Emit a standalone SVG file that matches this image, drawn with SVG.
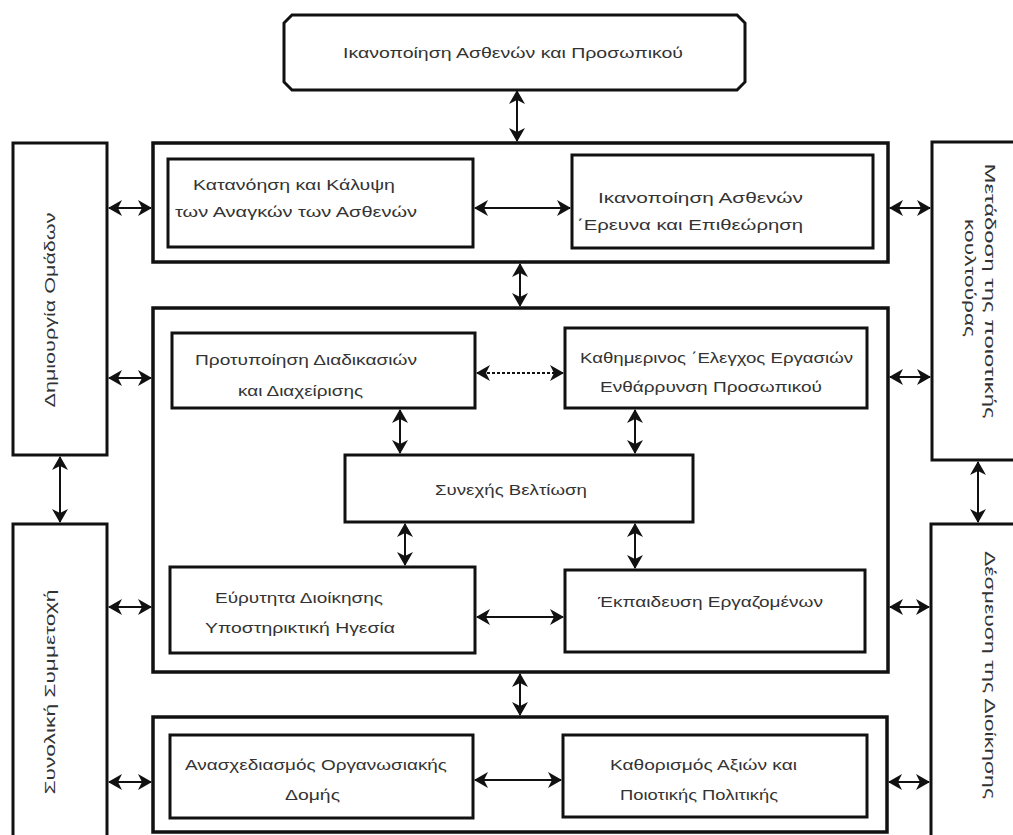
<svg xmlns="http://www.w3.org/2000/svg" width="1013" height="835" viewBox="0 0 1013 835">
<style>
.box{fill:#fff;stroke:#111;stroke-width:3}
.frame{fill:none;stroke:#111;stroke-width:3.5}
.t{font-family:"Liberation Sans",Arial,sans-serif;font-size:14px;fill:#333}
.tr{font-family:"Liberation Sans",Arial,sans-serif;font-size:15px;fill:#333}
.c{stroke:#111;stroke-width:2;fill:none;marker-start:url(#ah);marker-end:url(#ah)}
.d{stroke-dasharray:3 2}
</style>
<defs>
<marker id="ah" viewBox="0 0 14 16" refX="13" refY="8" markerWidth="14" markerHeight="16" markerUnits="userSpaceOnUse" orient="auto-start-reverse">
<path d="M0,0 L14,8 L0,16 L4,8 z" fill="#111"/>
</marker>
</defs>
<rect width="1013" height="835" fill="#fff"/>

<g id="frames">
<rect id="frame1" class="frame" x="153" y="143" width="735" height="119"/>
<rect id="frame2" class="frame" x="153" y="308" width="735" height="364"/>
<rect id="frame3" class="frame" x="153" y="717" width="734" height="115"/>
</g>

<g id="top">
<path class="box" d="M292,15 L737,15 L745,23 L745,82 L737,90 L292,90 L284,82 L284,23 z"/>
<text class="t" x="343" y="58" textLength="340" lengthAdjust="spacingAndGlyphs">Ικανοποίηση Ασθενών και Προσωπικού</text>
</g>

<g id="left1">
<rect class="box" x="13" y="143" width="94" height="312"/>
<text class="tr" transform="translate(55,310) rotate(-90)" text-anchor="middle" textLength="195" lengthAdjust="spacingAndGlyphs">Δημιουργία Ομάδων</text>
</g>
<g id="left2">
<rect class="box" x="13" y="524" width="94" height="320"/>
<text class="tr" transform="translate(55,692) rotate(-90)" text-anchor="middle" textLength="205" lengthAdjust="spacingAndGlyphs">Συνολική Συμμετοχή</text>
</g>
<g id="right1">
<rect class="box" x="932" y="142" width="95" height="318"/>
<text class="tr" transform="translate(985,291) rotate(90)" text-anchor="middle" textLength="255" lengthAdjust="spacingAndGlyphs">Μετάδοση της ποιοτικής</text>
<text class="tr" transform="translate(965,278) rotate(90)" text-anchor="middle" textLength="118" lengthAdjust="spacingAndGlyphs">κουλτούρας</text>
</g>
<g id="right2">
<rect class="box" x="931" y="524" width="95" height="320"/>
<text class="tr" transform="translate(985,675) rotate(90)" text-anchor="middle" textLength="248" lengthAdjust="spacingAndGlyphs">Δέσμευση της Διοίκησης</text>
</g>

<g id="n1a">
<rect class="box" x="168" y="159" width="305" height="88"/>
<text class="t" x="193" y="190" textLength="202" lengthAdjust="spacingAndGlyphs">Κατανόηση και Κάλυψη</text>
<text class="t" x="175" y="217" textLength="242" lengthAdjust="spacingAndGlyphs">των Αναγκών των Ασθενών</text>
</g>
<g id="n1b">
<rect class="box" x="572" y="155" width="301" height="93"/>
<text class="t" x="598" y="203" textLength="205" lengthAdjust="spacingAndGlyphs">Ικανοποίηση Ασθενών</text>
<text class="t" x="577" y="230" textLength="226" lengthAdjust="spacingAndGlyphs">΄Ερευνα και Επιθεώρηση</text>
</g>
<g id="n2a">
<rect class="box" x="172" y="333" width="303" height="75"/>
<text class="t" x="195" y="365" textLength="222" lengthAdjust="spacingAndGlyphs">Προτυποίηση Διαδικασιών</text>
<text class="t" x="238" y="396" textLength="125" lengthAdjust="spacingAndGlyphs">και Διαχείρισης</text>
</g>
<g id="n2b">
<rect class="box" x="565" y="328" width="302" height="80"/>
<text class="t" x="580" y="363" textLength="273" lengthAdjust="spacingAndGlyphs">Καθημερινος ΄Ελεγχος Εργασιών</text>
<text class="t" x="600" y="392" textLength="222" lengthAdjust="spacingAndGlyphs">Ενθάρρυνση Προσωπικού</text>
</g>
<g id="n2c">
<rect class="box" x="345" y="455" width="348" height="67"/>
<text class="t" x="435" y="495" textLength="152" lengthAdjust="spacingAndGlyphs">Συνεχής Βελτίωση</text>
</g>
<g id="n2d">
<rect class="box" x="170" y="567" width="305" height="86"/>
<text class="t" x="215" y="603" textLength="168" lengthAdjust="spacingAndGlyphs">Εύρυτητα Διοίκησης</text>
<text class="t" x="205" y="633" textLength="190" lengthAdjust="spacingAndGlyphs">Υποστηρικτική Ηγεσία</text>
</g>
<g id="n2e">
<rect class="box" x="565" y="570" width="300" height="82"/>
<text class="t" x="598" y="607" textLength="225" lengthAdjust="spacingAndGlyphs">Έκπαιδευση Εργαζομένων</text>
</g>
<g id="n3a">
<rect class="box" x="170" y="735" width="303" height="83"/>
<text class="t" x="185" y="770" textLength="262" lengthAdjust="spacingAndGlyphs">Ανασχεδιασμός Οργανωσιακής</text>
<text class="t" x="285" y="800" textLength="55" lengthAdjust="spacingAndGlyphs">Δομής</text>
</g>
<g id="n3b">
<rect class="box" x="563" y="735" width="304" height="82"/>
<text class="t" x="610" y="770" textLength="187" lengthAdjust="spacingAndGlyphs">Καθορισμός Αξιών και</text>
<text class="t" x="620" y="800" textLength="158" lengthAdjust="spacingAndGlyphs">Ποιοτικής Πολιτικής</text>
</g>

<g id="connectors">
<line class="c" x1="517" y1="91" x2="517" y2="141"/>
<line class="c" x1="520" y1="264" x2="520" y2="306"/>
<line class="c" x1="520" y1="674" x2="520" y2="715"/>
<line class="c" x1="475" y1="208" x2="570" y2="208"/>
<line class="c d" x1="477" y1="373" x2="563" y2="373"/>
<line class="c" x1="400" y1="410" x2="400" y2="453"/>
<line class="c" x1="635" y1="410" x2="635" y2="453"/>
<line class="c" x1="405" y1="524" x2="405" y2="565"/>
<line class="c" x1="635" y1="524" x2="635" y2="568"/>
<line class="c" x1="477" y1="617" x2="563" y2="617"/>
<line class="c" x1="475" y1="780" x2="561" y2="780"/>
<line class="c" x1="109" y1="208" x2="151" y2="208"/>
<line class="c" x1="109" y1="378" x2="151" y2="378"/>
<line class="c" x1="109" y1="607" x2="151" y2="607"/>
<line class="c" x1="109" y1="782" x2="151" y2="782"/>
<line class="c" x1="890" y1="208" x2="930" y2="208"/>
<line class="c" x1="890" y1="377" x2="930" y2="377"/>
<line class="c" x1="890" y1="607" x2="929" y2="607"/>
<line class="c" x1="889" y1="782" x2="929" y2="782"/>
<line class="c" x1="60" y1="457" x2="60" y2="522"/>
<line class="c" x1="978" y1="462" x2="978" y2="522"/>
</g>
</svg>
